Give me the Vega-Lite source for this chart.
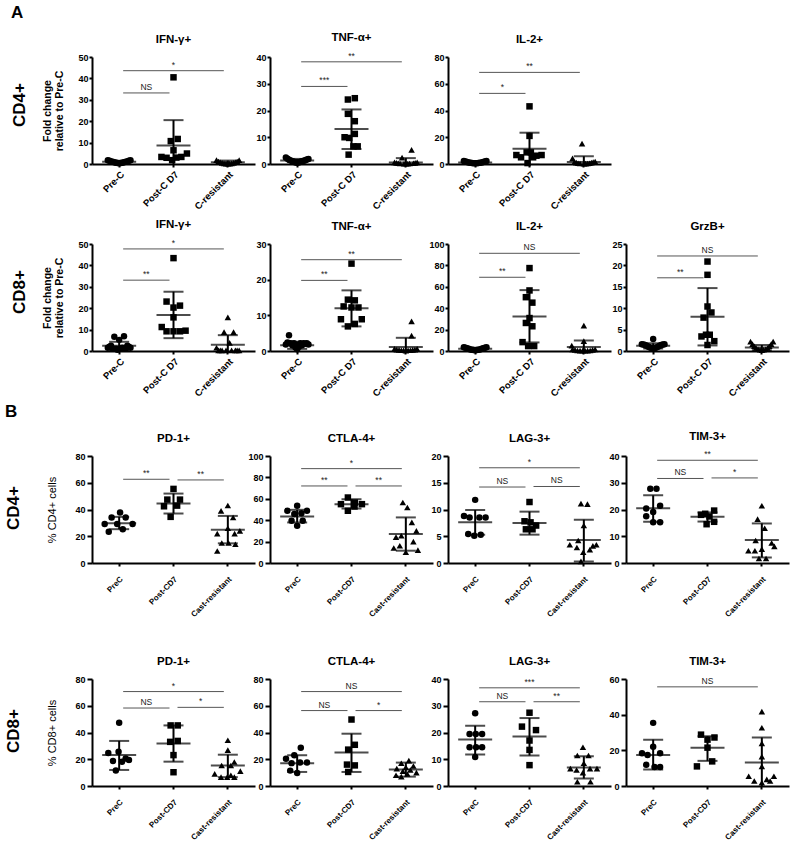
{
"$schema":"https://vega.github.io/schema/vega-lite/v6.json",
"background":"white",
"padding":{"left":4,"top":4,"right":2,"bottom":2},
"config":{
 "font":"Liberation Sans",
 "view":{"stroke":null},
 "axis":{"grid":false,"domainColor":"black","domainWidth":2,"tickColor":"black","tickWidth":2,"tickSize":3,"labelColor":"black","labelFont":"Liberation Sans","labelFontWeight":"bold","labelFontSize":9,"labelPadding":1,"labelOverlap":false,"labelFlush":false,"titleColor":"black","titleFont":"Liberation Sans"},
 "axisY":{"titleFontWeight":"bold","titleFontSize":10.5,"titlePadding":13,"titleLineHeight":12},
 "title":{"font":"Liberation Sans","fontSize":11.5,"fontWeight":"bold","color":"black","offset":8}
},
"data":{"values":[
{"p":"a1i","k":"p","g":1,"s":-0.75,"y":1.8},{"p":"a1i","k":"p","g":1,"s":-0.64,"y":1.5},{"p":"a1i","k":"p","g":1,"s":-0.54,"y":1.2},{"p":"a1i","k":"p","g":1,"s":-0.43,"y":1.0},{"p":"a1i","k":"p","g":1,"s":-0.32,"y":0.8},{"p":"a1i","k":"p","g":1,"s":-0.21,"y":0.6},{"p":"a1i","k":"p","g":1,"s":-0.11,"y":0.5},{"p":"a1i","k":"p","g":1,"s":0,"y":0.4},{"p":"a1i","k":"p","g":1,"s":0.11,"y":0.5},{"p":"a1i","k":"p","g":1,"s":0.21,"y":0.6},{"p":"a1i","k":"p","g":1,"s":0.32,"y":0.8},{"p":"a1i","k":"p","g":1,"s":0.43,"y":1.0},{"p":"a1i","k":"p","g":1,"s":0.54,"y":1.2},{"p":"a1i","k":"p","g":1,"s":0.64,"y":1.5},{"p":"a1i","k":"p","g":1,"s":0.75,"y":1.8},
{"p":"a1i","k":"p","g":2,"s":0,"y":40.5},{"p":"a1i","k":"p","g":2,"s":0.28,"y":11.7},{"p":"a1i","k":"p","g":2,"s":-0.18,"y":10.7},{"p":"a1i","k":"p","g":2,"s":0,"y":6.4},{"p":"a1i","k":"p","g":2,"s":-0.8,"y":3.3},{"p":"a1i","k":"p","g":2,"s":-0.46,"y":2.9},{"p":"a1i","k":"p","g":2,"s":-0.09,"y":1.8},{"p":"a1i","k":"p","g":2,"s":0.19,"y":3.0},{"p":"a1i","k":"p","g":2,"s":0.52,"y":3.3},{"p":"a1i","k":"p","g":2,"s":0.89,"y":4.9},
{"p":"a1i","k":"p","g":3,"s":-0.75,"y":1.8},{"p":"a1i","k":"p","g":3,"s":-0.62,"y":1.2},{"p":"a1i","k":"p","g":3,"s":-0.5,"y":0.8},{"p":"a1i","k":"p","g":3,"s":-0.38,"y":0.5},{"p":"a1i","k":"p","g":3,"s":-0.25,"y":0.3},{"p":"a1i","k":"p","g":3,"s":-0.12,"y":0.2},{"p":"a1i","k":"p","g":3,"s":0,"y":0.1},{"p":"a1i","k":"p","g":3,"s":0.12,"y":0.2},{"p":"a1i","k":"p","g":3,"s":0.25,"y":0.3},{"p":"a1i","k":"p","g":3,"s":0.38,"y":0.5},{"p":"a1i","k":"p","g":3,"s":0.5,"y":0.8},{"p":"a1i","k":"p","g":3,"s":0.62,"y":1.2},{"p":"a1i","k":"p","g":3,"s":0.75,"y":1.8},
{"p":"a1i","k":"m","g":1,"y":1.0,"lo":0.5,"hi":1.5},{"p":"a1i","k":"m","g":2,"y":8.7,"lo":-3.1,"hi":20.5},{"p":"a1i","k":"m","g":3,"y":0.8,"lo":0,"hi":1.6},
{"p":"a1i","k":"s","g":1,"g2":2,"y":33.2,"t":"NS","pr":"12"},{"p":"a1i","k":"s","g":1,"g2":3,"y":43.6,"t":"*","pr":"13"},

{"p":"a1t","k":"p","g":1,"s":-0.75,"y":2.4},{"p":"a1t","k":"p","g":1,"s":-0.64,"y":2.0},{"p":"a1t","k":"p","g":1,"s":-0.54,"y":1.6},{"p":"a1t","k":"p","g":1,"s":-0.43,"y":1.3},{"p":"a1t","k":"p","g":1,"s":-0.32,"y":1.0},{"p":"a1t","k":"p","g":1,"s":-0.21,"y":0.8},{"p":"a1t","k":"p","g":1,"s":-0.11,"y":0.6},{"p":"a1t","k":"p","g":1,"s":0,"y":0.5},{"p":"a1t","k":"p","g":1,"s":0.11,"y":0.6},{"p":"a1t","k":"p","g":1,"s":0.21,"y":0.8},{"p":"a1t","k":"p","g":1,"s":0.32,"y":1.0},{"p":"a1t","k":"p","g":1,"s":0.43,"y":1.2},{"p":"a1t","k":"p","g":1,"s":0.54,"y":1.4},{"p":"a1t","k":"p","g":1,"s":0.64,"y":1.7},{"p":"a1t","k":"p","g":1,"s":0.75,"y":1.9},
{"p":"a1t","k":"p","g":2,"s":-0.24,"y":24.1},{"p":"a1t","k":"p","g":2,"s":0.22,"y":24.6},{"p":"a1t","k":"p","g":2,"s":-0.24,"y":18.75},{"p":"a1t","k":"p","g":2,"s":0.22,"y":16.0},{"p":"a1t","k":"p","g":2,"s":-0.46,"y":10.0},{"p":"a1t","k":"p","g":2,"s":-0.15,"y":9.75},{"p":"a1t","k":"p","g":2,"s":0.22,"y":11.25},{"p":"a1t","k":"p","g":2,"s":-0.19,"y":3.5},{"p":"a1t","k":"p","g":2,"s":0.13,"y":6.6},{"p":"a1t","k":"p","g":2,"s":0.41,"y":6.6},
{"p":"a1t","k":"p","g":3,"s":-0.75,"y":0.6},{"p":"a1t","k":"p","g":3,"s":-0.62,"y":0.4},{"p":"a1t","k":"p","g":3,"s":-0.5,"y":0.3},{"p":"a1t","k":"p","g":3,"s":-0.38,"y":0.2},{"p":"a1t","k":"p","g":3,"s":-0.25,"y":2.4},{"p":"a1t","k":"p","g":3,"s":-0.12,"y":0.1},{"p":"a1t","k":"p","g":3,"s":0,"y":0.1},{"p":"a1t","k":"p","g":3,"s":0.12,"y":0.1},{"p":"a1t","k":"p","g":3,"s":0.25,"y":0.2},{"p":"a1t","k":"p","g":3,"s":0.38,"y":5.3},{"p":"a1t","k":"p","g":3,"s":0.5,"y":0.3},{"p":"a1t","k":"p","g":3,"s":0.62,"y":0.4},{"p":"a1t","k":"p","g":3,"s":0.75,"y":0.6},
{"p":"a1t","k":"m","g":1,"y":1.3,"lo":0.7,"hi":1.9},{"p":"a1t","k":"m","g":2,"y":13.1,"lo":5.6,"hi":20.4},{"p":"a1t","k":"m","g":3,"y":0.6,"lo":-1,"hi":2.2},
{"p":"a1t","k":"s","g":1,"g2":2,"y":29,"t":"***","pr":"12"},{"p":"a1t","k":"s","g":1,"g2":3,"y":38.2,"t":"**","pr":"13"},

{"p":"a1l","k":"p","g":1,"s":-0.75,"y":2.2},{"p":"a1l","k":"p","g":1,"s":-0.64,"y":1.8},{"p":"a1l","k":"p","g":1,"s":-0.54,"y":1.5},{"p":"a1l","k":"p","g":1,"s":-0.43,"y":1.2},{"p":"a1l","k":"p","g":1,"s":-0.32,"y":1.0},{"p":"a1l","k":"p","g":1,"s":-0.21,"y":0.8},{"p":"a1l","k":"p","g":1,"s":-0.11,"y":0.6},{"p":"a1l","k":"p","g":1,"s":0,"y":0.5},{"p":"a1l","k":"p","g":1,"s":0.11,"y":0.6},{"p":"a1l","k":"p","g":1,"s":0.21,"y":0.8},{"p":"a1l","k":"p","g":1,"s":0.32,"y":1.0},{"p":"a1l","k":"p","g":1,"s":0.43,"y":1.2},{"p":"a1l","k":"p","g":1,"s":0.54,"y":1.5},{"p":"a1l","k":"p","g":1,"s":0.64,"y":1.8},{"p":"a1l","k":"p","g":1,"s":0.75,"y":2.2},
{"p":"a1l","k":"p","g":2,"s":0,"y":43.1},{"p":"a1l","k":"p","g":2,"s":0,"y":21.0},{"p":"a1l","k":"p","g":2,"s":-0.19,"y":8.7},{"p":"a1l","k":"p","g":2,"s":0.09,"y":8.7},{"p":"a1l","k":"p","g":2,"s":-0.87,"y":6.7},{"p":"a1l","k":"p","g":2,"s":-0.56,"y":5.0},{"p":"a1l","k":"p","g":2,"s":0.46,"y":6.2},{"p":"a1l","k":"p","g":2,"s":0.8,"y":6.7},{"p":"a1l","k":"p","g":2,"s":-0.13,"y":0.7},{"p":"a1l","k":"p","g":2,"s":0.24,"y":5.0},
{"p":"a1l","k":"p","g":3,"s":-0.75,"y":4.2},{"p":"a1l","k":"p","g":3,"s":-0.62,"y":1.4},{"p":"a1l","k":"p","g":3,"s":-0.5,"y":1.0},{"p":"a1l","k":"p","g":3,"s":-0.38,"y":0.6},{"p":"a1l","k":"p","g":3,"s":-0.25,"y":0.4},{"p":"a1l","k":"p","g":3,"s":-0.12,"y":15.2},{"p":"a1l","k":"p","g":3,"s":0,"y":0.3},{"p":"a1l","k":"p","g":3,"s":0.12,"y":0.3},{"p":"a1l","k":"p","g":3,"s":0.25,"y":0.4},{"p":"a1l","k":"p","g":3,"s":0.38,"y":0.6},{"p":"a1l","k":"p","g":3,"s":0.5,"y":1.0},{"p":"a1l","k":"p","g":3,"s":0.62,"y":1.4},{"p":"a1l","k":"p","g":3,"s":0.75,"y":1.8},
{"p":"a1l","k":"m","g":1,"y":1.2,"lo":0.6,"hi":1.8},{"p":"a1l","k":"m","g":2,"y":11.4,"lo":-0.6,"hi":23.4},{"p":"a1l","k":"m","g":3,"y":1.5,"lo":-2.8,"hi":5.8},
{"p":"a1l","k":"s","g":1,"g2":2,"y":52.8,"t":"*","pr":"12"},{"p":"a1l","k":"s","g":1,"g2":3,"y":68.5,"t":"**","pr":"13"},

{"p":"a2i","k":"p","g":1,"s":-0.75,"y":1.5},{"p":"a2i","k":"p","g":1,"s":-0.64,"y":2.0},{"p":"a2i","k":"p","g":1,"s":-0.54,"y":2.5},{"p":"a2i","k":"p","g":1,"s":-0.43,"y":1.2},{"p":"a2i","k":"p","g":1,"s":-0.32,"y":6.7},{"p":"a2i","k":"p","g":1,"s":-0.21,"y":1.0},{"p":"a2i","k":"p","g":1,"s":-0.11,"y":0.6},{"p":"a2i","k":"p","g":1,"s":0,"y":5.2},{"p":"a2i","k":"p","g":1,"s":0.11,"y":1.0},{"p":"a2i","k":"p","g":1,"s":0.21,"y":1.5},{"p":"a2i","k":"p","g":1,"s":0.32,"y":6.9},{"p":"a2i","k":"p","g":1,"s":0.43,"y":1.2},{"p":"a2i","k":"p","g":1,"s":0.54,"y":2.5},{"p":"a2i","k":"p","g":1,"s":0.64,"y":2.0},{"p":"a2i","k":"p","g":1,"s":0.75,"y":1.5},
{"p":"a2i","k":"p","g":2,"s":0,"y":43.4},{"p":"a2i","k":"p","g":2,"s":-0.46,"y":23.1},{"p":"a2i","k":"p","g":2,"s":0.43,"y":21.2},{"p":"a2i","k":"p","g":2,"s":0,"y":20.3},{"p":"a2i","k":"p","g":2,"s":0,"y":15.7},{"p":"a2i","k":"p","g":2,"s":-0.78,"y":11.2},{"p":"a2i","k":"p","g":2,"s":-0.46,"y":9.2},{"p":"a2i","k":"p","g":2,"s":0,"y":9.2},{"p":"a2i","k":"p","g":2,"s":0.43,"y":9.2},{"p":"a2i","k":"p","g":2,"s":0.8,"y":9.5},
{"p":"a2i","k":"p","g":3,"s":-0.75,"y":1.5},{"p":"a2i","k":"p","g":3,"s":-0.62,"y":0.3},{"p":"a2i","k":"p","g":3,"s":-0.5,"y":0.3},{"p":"a2i","k":"p","g":3,"s":-0.38,"y":0.3},{"p":"a2i","k":"p","g":3,"s":-0.25,"y":8.8},{"p":"a2i","k":"p","g":3,"s":-0.12,"y":0.3},{"p":"a2i","k":"p","g":3,"s":0,"y":15.7},{"p":"a2i","k":"p","g":3,"s":0.12,"y":3.8},{"p":"a2i","k":"p","g":3,"s":0.25,"y":0.3},{"p":"a2i","k":"p","g":3,"s":0.38,"y":8.8},{"p":"a2i","k":"p","g":3,"s":0.5,"y":0.3},{"p":"a2i","k":"p","g":3,"s":0.62,"y":0.3},{"p":"a2i","k":"p","g":3,"s":0.75,"y":0.3},
{"p":"a2i","k":"m","g":1,"y":2.4,"lo":0.5,"hi":4.3},{"p":"a2i","k":"m","g":2,"y":16.8,"lo":6.0,"hi":27.7},{"p":"a2i","k":"m","g":3,"y":2.9,"lo":-1.6,"hi":7.4},
{"p":"a2i","k":"s","g":1,"g2":2,"y":33.1,"t":"**","pr":"12"},{"p":"a2i","k":"s","g":1,"g2":3,"y":47.7,"t":"*","pr":"13"},

{"p":"a2t","k":"p","g":1,"s":-0.75,"y":1.8},{"p":"a2t","k":"p","g":1,"s":-0.64,"y":2.4},{"p":"a2t","k":"p","g":1,"s":-0.54,"y":4.4},{"p":"a2t","k":"p","g":1,"s":-0.43,"y":2.2},{"p":"a2t","k":"p","g":1,"s":-0.32,"y":1.6},{"p":"a2t","k":"p","g":1,"s":-0.21,"y":2.2},{"p":"a2t","k":"p","g":1,"s":-0.11,"y":1.0},{"p":"a2t","k":"p","g":1,"s":0,"y":0.5},{"p":"a2t","k":"p","g":1,"s":0.11,"y":1.2},{"p":"a2t","k":"p","g":1,"s":0.21,"y":2.2},{"p":"a2t","k":"p","g":1,"s":0.32,"y":1.6},{"p":"a2t","k":"p","g":1,"s":0.43,"y":2.2},{"p":"a2t","k":"p","g":1,"s":0.54,"y":2.0},{"p":"a2t","k":"p","g":1,"s":0.64,"y":2.2},{"p":"a2t","k":"p","g":1,"s":0.75,"y":1.8},
{"p":"a2t","k":"p","g":2,"s":0,"y":24.5},{"p":"a2t","k":"p","g":2,"s":-0.24,"y":14.4},{"p":"a2t","k":"p","g":2,"s":0.22,"y":14.2},{"p":"a2t","k":"p","g":2,"s":-0.52,"y":12.5},{"p":"a2t","k":"p","g":2,"s":0,"y":12.2},{"p":"a2t","k":"p","g":2,"s":0.46,"y":12.2},{"p":"a2t","k":"p","g":2,"s":-0.7,"y":8.9},{"p":"a2t","k":"p","g":2,"s":0.68,"y":8.9},{"p":"a2t","k":"p","g":2,"s":-0.24,"y":6.9},{"p":"a2t","k":"p","g":2,"s":0.22,"y":7.6},
{"p":"a2t","k":"p","g":3,"s":0.38,"y":8.3},{"p":"a2t","k":"p","g":3,"s":0.38,"y":4.3},{"p":"a2t","k":"p","g":3,"s":-0.75,"y":0.6},{"p":"a2t","k":"p","g":3,"s":-0.6,"y":0.4},{"p":"a2t","k":"p","g":3,"s":-0.45,"y":0.3},{"p":"a2t","k":"p","g":3,"s":-0.3,"y":0.2},{"p":"a2t","k":"p","g":3,"s":-0.15,"y":0.2},{"p":"a2t","k":"p","g":3,"s":0,"y":0.1},{"p":"a2t","k":"p","g":3,"s":0.15,"y":0.2},{"p":"a2t","k":"p","g":3,"s":0.3,"y":0.2},{"p":"a2t","k":"p","g":3,"s":0.45,"y":0.3},{"p":"a2t","k":"p","g":3,"s":0.6,"y":0.4},{"p":"a2t","k":"p","g":3,"s":0.75,"y":0.6},
{"p":"a2t","k":"m","g":1,"y":1.6,"lo":0.6,"hi":2.6},{"p":"a2t","k":"m","g":2,"y":12.0,"lo":6.9,"hi":17.0},{"p":"a2t","k":"m","g":3,"y":1.1,"lo":-1.5,"hi":3.7},
{"p":"a2t","k":"s","g":1,"g2":2,"y":19.8,"t":"**","pr":"12"},{"p":"a2t","k":"s","g":1,"g2":3,"y":25.6,"t":"**","pr":"13"},

{"p":"a2l","k":"p","g":1,"s":-0.75,"y":3.5},{"p":"a2l","k":"p","g":1,"s":-0.64,"y":3.0},{"p":"a2l","k":"p","g":1,"s":-0.54,"y":2.5},{"p":"a2l","k":"p","g":1,"s":-0.43,"y":2.0},{"p":"a2l","k":"p","g":1,"s":-0.32,"y":1.5},{"p":"a2l","k":"p","g":1,"s":-0.21,"y":1.2},{"p":"a2l","k":"p","g":1,"s":-0.11,"y":1.0},{"p":"a2l","k":"p","g":1,"s":0,"y":0.8},{"p":"a2l","k":"p","g":1,"s":0.11,"y":1.0},{"p":"a2l","k":"p","g":1,"s":0.21,"y":1.2},{"p":"a2l","k":"p","g":1,"s":0.32,"y":1.5},{"p":"a2l","k":"p","g":1,"s":0.43,"y":2.0},{"p":"a2l","k":"p","g":1,"s":0.54,"y":2.5},{"p":"a2l","k":"p","g":1,"s":0.64,"y":3.0},{"p":"a2l","k":"p","g":1,"s":0.75,"y":3.5},
{"p":"a2l","k":"p","g":2,"s":0,"y":77.5},{"p":"a2l","k":"p","g":2,"s":0,"y":56.6},{"p":"a2l","k":"p","g":2,"s":-0.24,"y":50.3},{"p":"a2l","k":"p","g":2,"s":0.19,"y":45.2},{"p":"a2l","k":"p","g":2,"s":0,"y":30.8},{"p":"a2l","k":"p","g":2,"s":-0.24,"y":26.2},{"p":"a2l","k":"p","g":2,"s":0.19,"y":23.1},{"p":"a2l","k":"p","g":2,"s":-0.46,"y":8.3},{"p":"a2l","k":"p","g":2,"s":-0.09,"y":4.6},{"p":"a2l","k":"p","g":2,"s":0.31,"y":4.6},
{"p":"a2l","k":"p","g":3,"s":0,"y":23.7},{"p":"a2l","k":"p","g":3,"s":0,"y":9.2},{"p":"a2l","k":"p","g":3,"s":-0.8,"y":5.0},{"p":"a2l","k":"p","g":3,"s":-0.75,"y":1.5},{"p":"a2l","k":"p","g":3,"s":-0.58,"y":1.0},{"p":"a2l","k":"p","g":3,"s":-0.42,"y":0.5},{"p":"a2l","k":"p","g":3,"s":-0.25,"y":0.3},{"p":"a2l","k":"p","g":3,"s":-0.08,"y":0.3},{"p":"a2l","k":"p","g":3,"s":0.08,"y":0.3},{"p":"a2l","k":"p","g":3,"s":0.25,"y":0.3},{"p":"a2l","k":"p","g":3,"s":0.42,"y":0.5},{"p":"a2l","k":"p","g":3,"s":0.58,"y":1.0},{"p":"a2l","k":"p","g":3,"s":0.75,"y":1.5},
{"p":"a2l","k":"m","g":1,"y":2.0,"lo":1.0,"hi":3.0},{"p":"a2l","k":"m","g":2,"y":32.3,"lo":8.0,"hi":56.9},{"p":"a2l","k":"m","g":3,"y":3.7,"lo":-2.5,"hi":9.9},
{"p":"a2l","k":"s","g":1,"g2":2,"y":68.9,"t":"**","pr":"12"},{"p":"a2l","k":"s","g":1,"g2":3,"y":91.3,"t":"NS","pr":"13"},

{"p":"a2g","k":"p","g":1,"s":-0.75,"y":1.6},{"p":"a2g","k":"p","g":1,"s":-0.64,"y":1.5},{"p":"a2g","k":"p","g":1,"s":-0.54,"y":1.4},{"p":"a2g","k":"p","g":1,"s":-0.43,"y":1.2},{"p":"a2g","k":"p","g":1,"s":-0.32,"y":1.0},{"p":"a2g","k":"p","g":1,"s":-0.21,"y":0.8},{"p":"a2g","k":"p","g":1,"s":-0.11,"y":0.7},{"p":"a2g","k":"p","g":1,"s":0,"y":2.8},{"p":"a2g","k":"p","g":1,"s":0.11,"y":0.7},{"p":"a2g","k":"p","g":1,"s":0.21,"y":0.8},{"p":"a2g","k":"p","g":1,"s":0.32,"y":1.0},{"p":"a2g","k":"p","g":1,"s":0.43,"y":1.2},{"p":"a2g","k":"p","g":1,"s":0.54,"y":1.4},{"p":"a2g","k":"p","g":1,"s":0.64,"y":1.5},{"p":"a2g","k":"p","g":1,"s":0.75,"y":1.6},
{"p":"a2g","k":"p","g":2,"s":0,"y":20.9},{"p":"a2g","k":"p","g":2,"s":0,"y":17.8},{"p":"a2g","k":"p","g":2,"s":0,"y":10.4},{"p":"a2g","k":"p","g":2,"s":0.26,"y":9.0},{"p":"a2g","k":"p","g":2,"s":-0.26,"y":7.8},{"p":"a2g","k":"p","g":2,"s":-0.4,"y":3.4},{"p":"a2g","k":"p","g":2,"s":-0.1,"y":3.8},{"p":"a2g","k":"p","g":2,"s":0.15,"y":3.8},{"p":"a2g","k":"p","g":2,"s":0.45,"y":2.3},{"p":"a2g","k":"p","g":2,"s":0,"y":1.4},
{"p":"a2g","k":"p","g":3,"s":-0.75,"y":2.2},{"p":"a2g","k":"p","g":3,"s":-0.62,"y":1.6},{"p":"a2g","k":"p","g":3,"s":-0.5,"y":1.1},{"p":"a2g","k":"p","g":3,"s":-0.38,"y":0.7},{"p":"a2g","k":"p","g":3,"s":-0.25,"y":0.4},{"p":"a2g","k":"p","g":3,"s":-0.12,"y":0.3},{"p":"a2g","k":"p","g":3,"s":0,"y":0.2},{"p":"a2g","k":"p","g":3,"s":0.12,"y":0.3},{"p":"a2g","k":"p","g":3,"s":0.25,"y":0.4},{"p":"a2g","k":"p","g":3,"s":0.38,"y":0.7},{"p":"a2g","k":"p","g":3,"s":0.5,"y":1.1},{"p":"a2g","k":"p","g":3,"s":0.62,"y":1.6},{"p":"a2g","k":"p","g":3,"s":0.75,"y":2.2},
{"p":"a2g","k":"m","g":1,"y":1.2,"lo":0.6,"hi":1.8},{"p":"a2g","k":"m","g":2,"y":8.0,"lo":1.3,"hi":14.7},{"p":"a2g","k":"m","g":3,"y":0.8,"lo":0.2,"hi":1.4},
{"p":"a2g","k":"s","g":1,"g2":2,"y":17.1,"t":"**","pr":"12"},{"p":"a2g","k":"s","g":1,"g2":3,"y":22.2,"t":"NS","pr":"13"},

{"p":"b1p","k":"p","g":1,"s":0.06,"y":37.8},{"p":"b1p","k":"p","g":1,"s":-0.5,"y":34.0},{"p":"b1p","k":"p","g":1,"s":0.43,"y":34.0},{"p":"b1p","k":"p","g":1,"s":-0.96,"y":29.2},{"p":"b1p","k":"p","g":1,"s":-0.13,"y":29.2},{"p":"b1p","k":"p","g":1,"s":0.89,"y":29.2},{"p":"b1p","k":"p","g":1,"s":-0.69,"y":23.4},{"p":"b1p","k":"p","g":1,"s":0.24,"y":25.3},
{"p":"b1p","k":"p","g":2,"s":0,"y":55.4},{"p":"b1p","k":"p","g":2,"s":-0.41,"y":47.4},{"p":"b1p","k":"p","g":2,"s":0.43,"y":47.4},{"p":"b1p","k":"p","g":2,"s":-0.63,"y":42.4},{"p":"b1p","k":"p","g":2,"s":0.24,"y":42.9},{"p":"b1p","k":"p","g":2,"s":-0.19,"y":34.5},
{"p":"b1p","k":"p","g":3,"s":0,"y":43},{"p":"b1p","k":"p","g":3,"s":-0.45,"y":39},{"p":"b1p","k":"p","g":3,"s":0.35,"y":34},{"p":"b1p","k":"p","g":3,"s":0,"y":26},{"p":"b1p","k":"p","g":3,"s":-0.7,"y":22},{"p":"b1p","k":"p","g":3,"s":0.45,"y":22},{"p":"b1p","k":"p","g":3,"s":0.8,"y":24},{"p":"b1p","k":"p","g":3,"s":-0.4,"y":15},{"p":"b1p","k":"p","g":3,"s":0.05,"y":15},{"p":"b1p","k":"p","g":3,"s":0.5,"y":14},{"p":"b1p","k":"p","g":3,"s":-0.7,"y":9},
{"p":"b1p","k":"m","g":1,"y":29.8,"lo":25.3,"hi":34.5},{"p":"b1p","k":"m","g":2,"y":44.5,"lo":37.0,"hi":51.9},{"p":"b1p","k":"m","g":3,"y":24.8,"lo":14.7,"hi":35.2},
{"p":"b1p","k":"s","g":1,"g2":2,"y":62.6,"t":"**","pr":"12"},{"p":"b1p","k":"s","g":2,"g2":3,"y":62.1,"t":"**","pr":"23"},

{"p":"b1c","k":"p","g":1,"s":0,"y":53.4},{"p":"b1c","k":"p","g":1,"s":-0.65,"y":48.8},{"p":"b1c","k":"p","g":1,"s":0.65,"y":48.8},{"p":"b1c","k":"p","g":1,"s":-0.19,"y":45.7},{"p":"b1c","k":"p","g":1,"s":0.28,"y":46.6},{"p":"b1c","k":"p","g":1,"s":-0.37,"y":39.4},{"p":"b1c","k":"p","g":1,"s":0.37,"y":39.4},{"p":"b1c","k":"p","g":1,"s":0,"y":34.8},
{"p":"b1c","k":"p","g":2,"s":-0.24,"y":61.2},{"p":"b1c","k":"p","g":2,"s":-0.7,"y":55},{"p":"b1c","k":"p","g":2,"s":0.22,"y":56.5},{"p":"b1c","k":"p","g":2,"s":0.69,"y":55},{"p":"b1c","k":"p","g":2,"s":-0.24,"y":48.8},{"p":"b1c","k":"p","g":2,"s":0.2,"y":52.8},
{"p":"b1c","k":"p","g":3,"s":-0.2,"y":56.6},{"p":"b1c","k":"p","g":3,"s":0.1,"y":51.9},{"p":"b1c","k":"p","g":3,"s":0.4,"y":38},{"p":"b1c","k":"p","g":3,"s":0.7,"y":30},{"p":"b1c","k":"p","g":3,"s":-0.3,"y":25.5},{"p":"b1c","k":"p","g":3,"s":-0.65,"y":24.2},{"p":"b1c","k":"p","g":3,"s":0.5,"y":20},{"p":"b1c","k":"p","g":3,"s":-0.4,"y":16.1},{"p":"b1c","k":"p","g":3,"s":-0.8,"y":14},{"p":"b1c","k":"p","g":3,"s":0.8,"y":12},{"p":"b1c","k":"p","g":3,"s":0,"y":10},
{"p":"b1c","k":"m","g":1,"y":43.5,"lo":37.9,"hi":49.7},{"p":"b1c","k":"m","g":2,"y":55.0,"lo":50.9,"hi":59.6},{"p":"b1c","k":"m","g":3,"y":27.0,"lo":11.5,"hi":42.6},
{"p":"b1c","k":"s","g":1,"g2":2,"y":72,"t":"**","pr":"12"},{"p":"b1c","k":"s","g":2,"g2":3,"y":72,"t":"**","pr":"23"},{"p":"b1c","k":"s","g":1,"g2":3,"y":88.2,"t":"*","pr":"13"},

{"p":"b1l","k":"p","g":1,"s":0,"y":11.8},{"p":"b1l","k":"p","g":1,"s":-0.74,"y":8.8},{"p":"b1l","k":"p","g":1,"s":-0.37,"y":8.5},{"p":"b1l","k":"p","g":1,"s":0.28,"y":8.5},{"p":"b1l","k":"p","g":1,"s":0.69,"y":8.5},{"p":"b1l","k":"p","g":1,"s":-0.46,"y":5.4},{"p":"b1l","k":"p","g":1,"s":-0.06,"y":5.1},{"p":"b1l","k":"p","g":1,"s":0.37,"y":5.3},
{"p":"b1l","k":"p","g":2,"s":0,"y":11.4},{"p":"b1l","k":"p","g":2,"s":-0.33,"y":7.8},{"p":"b1l","k":"p","g":2,"s":0.07,"y":7.6},{"p":"b1l","k":"p","g":2,"s":0.44,"y":7.0},{"p":"b1l","k":"p","g":2,"s":-0.24,"y":6.3},{"p":"b1l","k":"p","g":2,"s":0.2,"y":6.3},
{"p":"b1l","k":"p","g":3,"s":-0.19,"y":11.1},{"p":"b1l","k":"p","g":3,"s":0.24,"y":11.0},{"p":"b1l","k":"p","g":3,"s":0,"y":7.0},{"p":"b1l","k":"p","g":3,"s":-0.93,"y":3.4},{"p":"b1l","k":"p","g":3,"s":-0.46,"y":2.9},{"p":"b1l","k":"p","g":3,"s":-0.04,"y":2.0},{"p":"b1l","k":"p","g":3,"s":0.4,"y":2.5},{"p":"b1l","k":"p","g":3,"s":0.83,"y":3.4},{"p":"b1l","k":"p","g":3,"s":-0.37,"y":4.2},{"p":"b1l","k":"p","g":3,"s":-0.19,"y":0.3},{"p":"b1l","k":"p","g":3,"s":0.6,"y":3.2},
{"p":"b1l","k":"m","g":1,"y":7.6,"lo":5.3,"hi":9.9},{"p":"b1l","k":"m","g":2,"y":7.5,"lo":5.3,"hi":9.6},{"p":"b1l","k":"m","g":3,"y":4.3,"lo":0.3,"hi":8.1},
{"p":"b1l","k":"s","g":1,"g2":2,"y":14.2,"t":"NS","pr":"12"},{"p":"b1l","k":"s","g":2,"g2":3,"y":14.3,"t":"NS","pr":"23"},{"p":"b1l","k":"s","g":1,"g2":3,"y":17.8,"t":"*","pr":"13"},

{"p":"b1t","k":"p","g":1,"s":-0.19,"y":27.8},{"p":"b1t","k":"p","g":1,"s":0.22,"y":27.8},{"p":"b1t","k":"p","g":1,"s":0.46,"y":21.4},{"p":"b1t","k":"p","g":1,"s":-0.46,"y":20.4},{"p":"b1t","k":"p","g":1,"s":0,"y":19.1},{"p":"b1t","k":"p","g":1,"s":-0.46,"y":17.5},{"p":"b1t","k":"p","g":1,"s":0,"y":15.2},{"p":"b1t","k":"p","g":1,"s":0.46,"y":15.2},
{"p":"b1t","k":"p","g":2,"s":0.44,"y":19.6},{"p":"b1t","k":"p","g":2,"s":-0.15,"y":18.4},{"p":"b1t","k":"p","g":2,"s":0.13,"y":17.4},{"p":"b1t","k":"p","g":2,"s":-0.43,"y":18.0},{"p":"b1t","k":"p","g":2,"s":0.44,"y":15.4},{"p":"b1t","k":"p","g":2,"s":-0.06,"y":14.5},
{"p":"b1t","k":"p","g":3,"s":0,"y":21.4},{"p":"b1t","k":"p","g":3,"s":-0.28,"y":16.4},{"p":"b1t","k":"p","g":3,"s":0.19,"y":13.0},{"p":"b1t","k":"p","g":3,"s":-0.41,"y":8.4},{"p":"b1t","k":"p","g":3,"s":0.65,"y":7.5},{"p":"b1t","k":"p","g":3,"s":-0.89,"y":4.6},{"p":"b1t","k":"p","g":3,"s":-0.46,"y":4.6},{"p":"b1t","k":"p","g":3,"s":0,"y":5.2},{"p":"b1t","k":"p","g":3,"s":-0.19,"y":1.7},{"p":"b1t","k":"p","g":3,"s":0.28,"y":1.7},{"p":"b1t","k":"p","g":3,"s":0.83,"y":6.2},
{"p":"b1t","k":"m","g":1,"y":20.5,"lo":15.4,"hi":25.3},{"p":"b1t","k":"m","g":2,"y":17.3,"lo":15.5,"hi":18.9},{"p":"b1t","k":"m","g":3,"y":8.6,"lo":2.1,"hi":14.8},
{"p":"b1t","k":"s","g":1,"g2":2,"y":31.6,"t":"NS","pr":"12"},{"p":"b1t","k":"s","g":2,"g2":3,"y":31.8,"t":"*","pr":"23"},{"p":"b1t","k":"s","g":1,"g2":3,"y":38.4,"t":"**","pr":"13"},

{"p":"b2p","k":"p","g":1,"s":0,"y":47.3},{"p":"b2p","k":"p","g":1,"s":-0.72,"y":24.6},{"p":"b2p","k":"p","g":1,"s":-0.04,"y":25.6},{"p":"b2p","k":"p","g":1,"s":-0.41,"y":18.7},{"p":"b2p","k":"p","g":1,"s":0.43,"y":20.5},{"p":"b2p","k":"p","g":1,"s":0.19,"y":18.2},{"p":"b2p","k":"p","g":1,"s":0.65,"y":19.5},{"p":"b2p","k":"p","g":1,"s":-0.22,"y":11.6},
{"p":"b2p","k":"p","g":2,"s":-0.19,"y":45.3},{"p":"b2p","k":"p","g":2,"s":0.28,"y":45.3},{"p":"b2p","k":"p","g":2,"s":0.28,"y":33.7},{"p":"b2p","k":"p","g":2,"s":-0.22,"y":33.0},{"p":"b2p","k":"p","g":2,"s":0,"y":23.1},{"p":"b2p","k":"p","g":2,"s":0,"y":10.3},
{"p":"b2p","k":"p","g":3,"s":0,"y":34.2},{"p":"b2p","k":"p","g":3,"s":0,"y":26.8},{"p":"b2p","k":"p","g":3,"s":0.43,"y":17.9},{"p":"b2p","k":"p","g":3,"s":-0.41,"y":15.3},{"p":"b2p","k":"p","g":3,"s":0.2,"y":15.3},{"p":"b2p","k":"p","g":3,"s":0.83,"y":11.1},{"p":"b2p","k":"p","g":3,"s":-0.87,"y":9.1},{"p":"b2p","k":"p","g":3,"s":-0.45,"y":6.6},{"p":"b2p","k":"p","g":3,"s":-0.04,"y":6.6},{"p":"b2p","k":"p","g":3,"s":0.43,"y":6.6},{"p":"b2p","k":"p","g":3,"s":0.2,"y":8.0},
{"p":"b2p","k":"m","g":1,"y":23.1,"lo":12.0,"hi":33.7},{"p":"b2p","k":"m","g":2,"y":31.8,"lo":18.2,"hi":45.3},{"p":"b2p","k":"m","g":3,"y":15.3,"lo":6.6,"hi":23.4},
{"p":"b2p","k":"s","g":1,"g2":2,"y":58.3,"t":"NS","pr":"12"},{"p":"b2p","k":"s","g":2,"g2":3,"y":58.8,"t":"*","pr":"23"},{"p":"b2p","k":"s","g":1,"g2":3,"y":70.6,"t":"*","pr":"13"},

{"p":"b2c","k":"p","g":1,"s":0.24,"y":28.6},{"p":"b2c","k":"p","g":1,"s":-0.19,"y":23.0},{"p":"b2c","k":"p","g":1,"s":-0.74,"y":20.3},{"p":"b2c","k":"p","g":1,"s":0.65,"y":17.6},{"p":"b2c","k":"p","g":1,"s":-0.37,"y":17.1},{"p":"b2c","k":"p","g":1,"s":0.19,"y":17.6},{"p":"b2c","k":"p","g":1,"s":0,"y":9.8},{"p":"b2c","k":"p","g":1,"s":-0.46,"y":11.5},
{"p":"b2c","k":"p","g":2,"s":0,"y":49.7},{"p":"b2c","k":"p","g":2,"s":0.22,"y":30.8},{"p":"b2c","k":"p","g":2,"s":-0.22,"y":27.2},{"p":"b2c","k":"p","g":2,"s":-0.3,"y":16.0},{"p":"b2c","k":"p","g":2,"s":0.22,"y":15.4},{"p":"b2c","k":"p","g":2,"s":-0.22,"y":10.5},
{"p":"b2c","k":"p","g":3,"s":0.2,"y":19},{"p":"b2c","k":"p","g":3,"s":-0.3,"y":17},{"p":"b2c","k":"p","g":3,"s":0.5,"y":15},{"p":"b2c","k":"p","g":3,"s":0,"y":14},{"p":"b2c","k":"p","g":3,"s":-0.6,"y":13},{"p":"b2c","k":"p","g":3,"s":0.3,"y":12},{"p":"b2c","k":"p","g":3,"s":-0.2,"y":11},{"p":"b2c","k":"p","g":3,"s":0.7,"y":10},{"p":"b2c","k":"p","g":3,"s":0.1,"y":9},{"p":"b2c","k":"p","g":3,"s":-0.65,"y":8},{"p":"b2c","k":"p","g":3,"s":-0.3,"y":7},
{"p":"b2c","k":"m","g":1,"y":17.1,"lo":10.5,"hi":23.0},{"p":"b2c","k":"m","g":2,"y":25.0,"lo":10.5,"hi":39.1},{"p":"b2c","k":"m","g":3,"y":12.3,"lo":7.0,"hi":17.5},
{"p":"b2c","k":"s","g":1,"g2":2,"y":56.4,"t":"NS","pr":"12"},{"p":"b2c","k":"s","g":2,"g2":3,"y":56.4,"t":"*","pr":"23"},{"p":"b2c","k":"s","g":1,"g2":3,"y":70.6,"t":"NS","pr":"13"},

{"p":"b2l","k":"p","g":1,"s":0,"y":27.2},{"p":"b2l","k":"p","g":1,"s":-0.37,"y":19.4},{"p":"b2l","k":"p","g":1,"s":0.04,"y":19.4},{"p":"b2l","k":"p","g":1,"s":0.46,"y":19.4},{"p":"b2l","k":"p","g":1,"s":-0.37,"y":14.5},{"p":"b2l","k":"p","g":1,"s":0.46,"y":14.5},{"p":"b2l","k":"p","g":1,"s":0.06,"y":14.5},{"p":"b2l","k":"p","g":1,"s":0,"y":10.8},
{"p":"b2l","k":"p","g":2,"s":0,"y":27.4},{"p":"b2l","k":"p","g":2,"s":-0.5,"y":22.2},{"p":"b2l","k":"p","g":2,"s":0.43,"y":20.9},{"p":"b2l","k":"p","g":2,"s":0,"y":17.0},{"p":"b2l","k":"p","g":2,"s":0,"y":13.5},{"p":"b2l","k":"p","g":2,"s":0,"y":7.8},
{"p":"b2l","k":"p","g":3,"s":-0.06,"y":14.5},{"p":"b2l","k":"p","g":3,"s":-0.43,"y":11.4},{"p":"b2l","k":"p","g":3,"s":0.31,"y":11.4},{"p":"b2l","k":"p","g":3,"s":0,"y":8.5},{"p":"b2l","k":"p","g":3,"s":-0.89,"y":6.5},{"p":"b2l","k":"p","g":3,"s":-0.48,"y":6.0},{"p":"b2l","k":"p","g":3,"s":-0.06,"y":5.0},{"p":"b2l","k":"p","g":3,"s":0.41,"y":6.5},{"p":"b2l","k":"p","g":3,"s":0.87,"y":6.5},{"p":"b2l","k":"p","g":3,"s":-0.43,"y":1.6},{"p":"b2l","k":"p","g":3,"s":0.44,"y":1.6},
{"p":"b2l","k":"m","g":1,"y":17.4,"lo":11.8,"hi":22.5},{"p":"b2l","k":"m","g":2,"y":18.5,"lo":11.4,"hi":25.4},{"p":"b2l","k":"m","g":3,"y":6.9,"lo":2.8,"hi":11.1},
{"p":"b2l","k":"s","g":1,"g2":2,"y":31.5,"t":"NS","pr":"12"},{"p":"b2l","k":"s","g":2,"g2":3,"y":31.5,"t":"**","pr":"23"},{"p":"b2l","k":"s","g":1,"g2":3,"y":36.7,"t":"***","pr":"13"},

{"p":"b2t","k":"p","g":1,"s":0,"y":35.4},{"p":"b2t","k":"p","g":1,"s":0,"y":22.0},{"p":"b2t","k":"p","g":1,"s":-0.74,"y":18.3},{"p":"b2t","k":"p","g":1,"s":0.46,"y":18.3},{"p":"b2t","k":"p","g":1,"s":-0.37,"y":17.4},{"p":"b2t","k":"p","g":1,"s":-0.46,"y":11.9},{"p":"b2t","k":"p","g":1,"s":0.09,"y":10.6},{"p":"b2t","k":"p","g":1,"s":0.46,"y":10.6},
{"p":"b2t","k":"p","g":2,"s":-0.43,"y":28.8},{"p":"b2t","k":"p","g":2,"s":0.46,"y":27.2},{"p":"b2t","k":"p","g":2,"s":0,"y":26.0},{"p":"b2t","k":"p","g":2,"s":0,"y":21.5},{"p":"b2t","k":"p","g":2,"s":-0.7,"y":11.0},{"p":"b2t","k":"p","g":2,"s":0.31,"y":13.8},
{"p":"b2t","k":"p","g":3,"s":0,"y":41.7},{"p":"b2t","k":"p","g":3,"s":0,"y":32.7},{"p":"b2t","k":"p","g":3,"s":0,"y":23.9},{"p":"b2t","k":"p","g":3,"s":0,"y":16.5},{"p":"b2t","k":"p","g":3,"s":0,"y":11.0},{"p":"b2t","k":"p","g":3,"s":-0.87,"y":5.5},{"p":"b2t","k":"p","g":3,"s":-0.5,"y":2.8},{"p":"b2t","k":"p","g":3,"s":0,"y":1.8},{"p":"b2t","k":"p","g":3,"s":0.33,"y":3.7},{"p":"b2t","k":"p","g":3,"s":0.8,"y":5.5},{"p":"b2t","k":"p","g":3,"s":0.55,"y":2.8},
{"p":"b2t","k":"m","g":1,"y":17.4,"lo":9.2,"hi":26.0},{"p":"b2t","k":"m","g":2,"y":21.5,"lo":14.1,"hi":27.9},{"p":"b2t","k":"m","g":3,"y":13.2,"lo":-0.8,"hi":27.2},
{"p":"b2t","k":"s","g":1,"g2":3,"y":55.6,"t":"NS","pr":"13"}
]},
"spacing":4,
"align":"none",
"vconcat":[
{"title":{"text":"A","anchor":"start","fontSize":17,"fontWeight":"bold","offset":10},
 "spacing":8,
 "vconcat":[
 {"title":{"text":"CD4+","orient":"left","fontSize":17,"fontWeight":"bold","frame":"group","anchor":"middle","offset":14,"dx":-48},
  "bounds":"flush","spacing":15,
  "hconcat":[
  {"width":163,"height":107,"title":"IFN-γ+","transform":[{"filter":"datum.p=='a1i'"}],
   "encoding":{"x":{"field":"g","type":"ordinal","scale":{"type":"band","paddingInner":0,"paddingOuter":0},"axis":{"title":null,"labelAngle":-45,"labelAlign":"right","labelBaseline":"top","labelFontSize":9.5,"labelPadding":2,"labelExpr":"datum.value==1?'Pre-C':datum.value==2?'Post-C D7':'C-resistant'"}},
    "y":{"field":"y","type":"quantitative","scale":{"domain":[0,50]},"axis":{"values":[0,10,20,30,40,50],"title":["Fold change","relative to Pre-C"]}}},
   "layer":[
    {"transform":[{"filter":"datum.k=='s'"}],"mark":{"type":"rule","color":"#555","strokeWidth":1,"xOffset":4,"x2Offset":-4},"encoding":{"x":{"field":"g","type":"ordinal","bandPosition":0.5,"title":null},"x2":{"field":"g2"}}},
    {"transform":[{"filter":"datum.k=='s' && datum.pr!='13'"}],"mark":{"type":"text","baseline":"bottom","dy":-1,"fontSize":8.5,"color":"#222"},"encoding":{"x":{"field":"g2","type":"ordinal","bandPosition":0,"title":null},"text":{"field":"t"}}},
    {"transform":[{"filter":"datum.k=='s' && datum.pr=='13'"}],"mark":{"type":"text","baseline":"bottom","dy":-1,"fontSize":8.5,"color":"#222"},"encoding":{"x":{"field":"g","type":"ordinal","bandPosition":1.5,"title":null},"text":{"field":"t"}}},
    {"transform":[{"filter":"datum.k=='p'"}],"mark":{"type":"point","filled":true,"size":42,"color":"black","opacity":1},"encoding":{"xOffset":{"field":"s","type":"quantitative","scale":{"domain":[-1.5,1.5]}},"shape":{"field":"g","type":"nominal","scale":{"domain":[1,2,3],"range":["circle","square","triangle-up"]},"legend":null}}},
    {"transform":[{"filter":"datum.k=='m'"}],"mark":{"type":"rule","clip":true,"strokeWidth":2,"color":"black"},"encoding":{"y":{"field":"lo","type":"quantitative","title":null},"y2":{"field":"hi"}}},
    {"transform":[{"filter":"datum.k=='m'"}],"mark":{"type":"tick","orient":"horizontal","size":34,"thickness":2,"color":"black"}},
    {"transform":[{"filter":"datum.k=='m'"},{"fold":["lo","hi"],"as":["kk","cap"]}],"mark":{"type":"tick","orient":"horizontal","size":20,"thickness":2,"color":"black","clip":true},"encoding":{"y":{"field":"cap","type":"quantitative","title":null}}}
   ]},
  {"width":163,"height":107,"title":"TNF-α+","transform":[{"filter":"datum.p=='a1t'"}],
   "encoding":{"x":{"field":"g","type":"ordinal","scale":{"type":"band","paddingInner":0,"paddingOuter":0},"axis":{"title":null,"labelAngle":-45,"labelAlign":"right","labelBaseline":"top","labelFontSize":9.5,"labelPadding":2,"labelExpr":"datum.value==1?'Pre-C':datum.value==2?'Post-C D7':'C-resistant'"}},
    "y":{"field":"y","type":"quantitative","scale":{"domain":[0,40]},"axis":{"values":[0,10,20,30,40],"title":null}}},
   "layer":[
    {"transform":[{"filter":"datum.k=='s'"}],"mark":{"type":"rule","color":"#555","strokeWidth":1,"xOffset":4,"x2Offset":-4},"encoding":{"x":{"field":"g","type":"ordinal","bandPosition":0.5,"title":null},"x2":{"field":"g2"}}},
    {"transform":[{"filter":"datum.k=='s' && datum.pr!='13'"}],"mark":{"type":"text","baseline":"bottom","dy":-1,"fontSize":8.5,"color":"#222"},"encoding":{"x":{"field":"g2","type":"ordinal","bandPosition":0,"title":null},"text":{"field":"t"}}},
    {"transform":[{"filter":"datum.k=='s' && datum.pr=='13'"}],"mark":{"type":"text","baseline":"bottom","dy":-1,"fontSize":8.5,"color":"#222"},"encoding":{"x":{"field":"g","type":"ordinal","bandPosition":1.5,"title":null},"text":{"field":"t"}}},
    {"transform":[{"filter":"datum.k=='p'"}],"mark":{"type":"point","filled":true,"size":42,"color":"black","opacity":1},"encoding":{"xOffset":{"field":"s","type":"quantitative","scale":{"domain":[-1.5,1.5]}},"shape":{"field":"g","type":"nominal","scale":{"domain":[1,2,3],"range":["circle","square","triangle-up"]},"legend":null}}},
    {"transform":[{"filter":"datum.k=='m'"}],"mark":{"type":"rule","clip":true,"strokeWidth":2,"color":"black"},"encoding":{"y":{"field":"lo","type":"quantitative","title":null},"y2":{"field":"hi"}}},
    {"transform":[{"filter":"datum.k=='m'"}],"mark":{"type":"tick","orient":"horizontal","size":34,"thickness":2,"color":"black"}},
    {"transform":[{"filter":"datum.k=='m'"},{"fold":["lo","hi"],"as":["kk","cap"]}],"mark":{"type":"tick","orient":"horizontal","size":20,"thickness":2,"color":"black","clip":true},"encoding":{"y":{"field":"cap","type":"quantitative","title":null}}}
   ]},
  {"width":163,"height":107,"title":"IL-2+","transform":[{"filter":"datum.p=='a1l'"}],
   "encoding":{"x":{"field":"g","type":"ordinal","scale":{"type":"band","paddingInner":0,"paddingOuter":0},"axis":{"title":null,"labelAngle":-45,"labelAlign":"right","labelBaseline":"top","labelFontSize":9.5,"labelPadding":2,"labelExpr":"datum.value==1?'Pre-C':datum.value==2?'Post-C D7':'C-resistant'"}},
    "y":{"field":"y","type":"quantitative","scale":{"domain":[0,80]},"axis":{"values":[0,20,40,60,80],"title":null}}},
   "layer":[
    {"transform":[{"filter":"datum.k=='s'"}],"mark":{"type":"rule","color":"#555","strokeWidth":1,"xOffset":4,"x2Offset":-4},"encoding":{"x":{"field":"g","type":"ordinal","bandPosition":0.5,"title":null},"x2":{"field":"g2"}}},
    {"transform":[{"filter":"datum.k=='s' && datum.pr!='13'"}],"mark":{"type":"text","baseline":"bottom","dy":-1,"fontSize":8.5,"color":"#222"},"encoding":{"x":{"field":"g2","type":"ordinal","bandPosition":0,"title":null},"text":{"field":"t"}}},
    {"transform":[{"filter":"datum.k=='s' && datum.pr=='13'"}],"mark":{"type":"text","baseline":"bottom","dy":-1,"fontSize":8.5,"color":"#222"},"encoding":{"x":{"field":"g","type":"ordinal","bandPosition":1.5,"title":null},"text":{"field":"t"}}},
    {"transform":[{"filter":"datum.k=='p'"}],"mark":{"type":"point","filled":true,"size":42,"color":"black","opacity":1},"encoding":{"xOffset":{"field":"s","type":"quantitative","scale":{"domain":[-1.5,1.5]}},"shape":{"field":"g","type":"nominal","scale":{"domain":[1,2,3],"range":["circle","square","triangle-up"]},"legend":null}}},
    {"transform":[{"filter":"datum.k=='m'"}],"mark":{"type":"rule","clip":true,"strokeWidth":2,"color":"black"},"encoding":{"y":{"field":"lo","type":"quantitative","title":null},"y2":{"field":"hi"}}},
    {"transform":[{"filter":"datum.k=='m'"}],"mark":{"type":"tick","orient":"horizontal","size":34,"thickness":2,"color":"black"}},
    {"transform":[{"filter":"datum.k=='m'"},{"fold":["lo","hi"],"as":["kk","cap"]}],"mark":{"type":"tick","orient":"horizontal","size":20,"thickness":2,"color":"black","clip":true},"encoding":{"y":{"field":"cap","type":"quantitative","title":null}}}
   ]}
  ]},
 {"title":{"text":"CD8+","orient":"left","fontSize":17,"fontWeight":"bold","frame":"group","anchor":"middle","offset":14,"dx":-48},
  "bounds":"flush","spacing":15,
  "hconcat":[
  {"width":163,"height":107,"title":"IFN-γ+","transform":[{"filter":"datum.p=='a2i'"}],
   "encoding":{"x":{"field":"g","type":"ordinal","scale":{"type":"band","paddingInner":0,"paddingOuter":0},"axis":{"title":null,"labelAngle":-45,"labelAlign":"right","labelBaseline":"top","labelFontSize":9.5,"labelPadding":2,"labelExpr":"datum.value==1?'Pre-C':datum.value==2?'Post-C D7':'C-resistant'"}},
    "y":{"field":"y","type":"quantitative","scale":{"domain":[0,50]},"axis":{"values":[0,10,20,30,40,50],"title":["Fold change","relative to Pre-C"]}}},
   "layer":[
    {"transform":[{"filter":"datum.k=='s'"}],"mark":{"type":"rule","color":"#555","strokeWidth":1,"xOffset":4,"x2Offset":-4},"encoding":{"x":{"field":"g","type":"ordinal","bandPosition":0.5,"title":null},"x2":{"field":"g2"}}},
    {"transform":[{"filter":"datum.k=='s' && datum.pr!='13'"}],"mark":{"type":"text","baseline":"bottom","dy":-1,"fontSize":8.5,"color":"#222"},"encoding":{"x":{"field":"g2","type":"ordinal","bandPosition":0,"title":null},"text":{"field":"t"}}},
    {"transform":[{"filter":"datum.k=='s' && datum.pr=='13'"}],"mark":{"type":"text","baseline":"bottom","dy":-1,"fontSize":8.5,"color":"#222"},"encoding":{"x":{"field":"g","type":"ordinal","bandPosition":1.5,"title":null},"text":{"field":"t"}}},
    {"transform":[{"filter":"datum.k=='p'"}],"mark":{"type":"point","filled":true,"size":42,"color":"black","opacity":1},"encoding":{"xOffset":{"field":"s","type":"quantitative","scale":{"domain":[-1.5,1.5]}},"shape":{"field":"g","type":"nominal","scale":{"domain":[1,2,3],"range":["circle","square","triangle-up"]},"legend":null}}},
    {"transform":[{"filter":"datum.k=='m'"}],"mark":{"type":"rule","clip":true,"strokeWidth":2,"color":"black"},"encoding":{"y":{"field":"lo","type":"quantitative","title":null},"y2":{"field":"hi"}}},
    {"transform":[{"filter":"datum.k=='m'"}],"mark":{"type":"tick","orient":"horizontal","size":34,"thickness":2,"color":"black"}},
    {"transform":[{"filter":"datum.k=='m'"},{"fold":["lo","hi"],"as":["kk","cap"]}],"mark":{"type":"tick","orient":"horizontal","size":20,"thickness":2,"color":"black","clip":true},"encoding":{"y":{"field":"cap","type":"quantitative","title":null}}}
   ]},
  {"width":163,"height":107,"title":"TNF-α+","transform":[{"filter":"datum.p=='a2t'"}],
   "encoding":{"x":{"field":"g","type":"ordinal","scale":{"type":"band","paddingInner":0,"paddingOuter":0},"axis":{"title":null,"labelAngle":-45,"labelAlign":"right","labelBaseline":"top","labelFontSize":9.5,"labelPadding":2,"labelExpr":"datum.value==1?'Pre-C':datum.value==2?'Post-C D7':'C-resistant'"}},
    "y":{"field":"y","type":"quantitative","scale":{"domain":[0,30]},"axis":{"values":[0,10,20,30],"title":null}}},
   "layer":[
    {"transform":[{"filter":"datum.k=='s'"}],"mark":{"type":"rule","color":"#555","strokeWidth":1,"xOffset":4,"x2Offset":-4},"encoding":{"x":{"field":"g","type":"ordinal","bandPosition":0.5,"title":null},"x2":{"field":"g2"}}},
    {"transform":[{"filter":"datum.k=='s' && datum.pr!='13'"}],"mark":{"type":"text","baseline":"bottom","dy":-1,"fontSize":8.5,"color":"#222"},"encoding":{"x":{"field":"g2","type":"ordinal","bandPosition":0,"title":null},"text":{"field":"t"}}},
    {"transform":[{"filter":"datum.k=='s' && datum.pr=='13'"}],"mark":{"type":"text","baseline":"bottom","dy":-1,"fontSize":8.5,"color":"#222"},"encoding":{"x":{"field":"g","type":"ordinal","bandPosition":1.5,"title":null},"text":{"field":"t"}}},
    {"transform":[{"filter":"datum.k=='p'"}],"mark":{"type":"point","filled":true,"size":42,"color":"black","opacity":1},"encoding":{"xOffset":{"field":"s","type":"quantitative","scale":{"domain":[-1.5,1.5]}},"shape":{"field":"g","type":"nominal","scale":{"domain":[1,2,3],"range":["circle","square","triangle-up"]},"legend":null}}},
    {"transform":[{"filter":"datum.k=='m'"}],"mark":{"type":"rule","clip":true,"strokeWidth":2,"color":"black"},"encoding":{"y":{"field":"lo","type":"quantitative","title":null},"y2":{"field":"hi"}}},
    {"transform":[{"filter":"datum.k=='m'"}],"mark":{"type":"tick","orient":"horizontal","size":34,"thickness":2,"color":"black"}},
    {"transform":[{"filter":"datum.k=='m'"},{"fold":["lo","hi"],"as":["kk","cap"]}],"mark":{"type":"tick","orient":"horizontal","size":20,"thickness":2,"color":"black","clip":true},"encoding":{"y":{"field":"cap","type":"quantitative","title":null}}}
   ]},
  {"width":163,"height":107,"title":"IL-2+","transform":[{"filter":"datum.p=='a2l'"}],
   "encoding":{"x":{"field":"g","type":"ordinal","scale":{"type":"band","paddingInner":0,"paddingOuter":0},"axis":{"title":null,"labelAngle":-45,"labelAlign":"right","labelBaseline":"top","labelFontSize":9.5,"labelPadding":2,"labelExpr":"datum.value==1?'Pre-C':datum.value==2?'Post-C D7':'C-resistant'"}},
    "y":{"field":"y","type":"quantitative","scale":{"domain":[0,100]},"axis":{"values":[0,20,40,60,80,100],"title":null}}},
   "layer":[
    {"transform":[{"filter":"datum.k=='s'"}],"mark":{"type":"rule","color":"#555","strokeWidth":1,"xOffset":4,"x2Offset":-4},"encoding":{"x":{"field":"g","type":"ordinal","bandPosition":0.5,"title":null},"x2":{"field":"g2"}}},
    {"transform":[{"filter":"datum.k=='s' && datum.pr!='13'"}],"mark":{"type":"text","baseline":"bottom","dy":-1,"fontSize":8.5,"color":"#222"},"encoding":{"x":{"field":"g2","type":"ordinal","bandPosition":0,"title":null},"text":{"field":"t"}}},
    {"transform":[{"filter":"datum.k=='s' && datum.pr=='13'"}],"mark":{"type":"text","baseline":"bottom","dy":-1,"fontSize":8.5,"color":"#222"},"encoding":{"x":{"field":"g","type":"ordinal","bandPosition":1.5,"title":null},"text":{"field":"t"}}},
    {"transform":[{"filter":"datum.k=='p'"}],"mark":{"type":"point","filled":true,"size":42,"color":"black","opacity":1},"encoding":{"xOffset":{"field":"s","type":"quantitative","scale":{"domain":[-1.5,1.5]}},"shape":{"field":"g","type":"nominal","scale":{"domain":[1,2,3],"range":["circle","square","triangle-up"]},"legend":null}}},
    {"transform":[{"filter":"datum.k=='m'"}],"mark":{"type":"rule","clip":true,"strokeWidth":2,"color":"black"},"encoding":{"y":{"field":"lo","type":"quantitative","title":null},"y2":{"field":"hi"}}},
    {"transform":[{"filter":"datum.k=='m'"}],"mark":{"type":"tick","orient":"horizontal","size":34,"thickness":2,"color":"black"}},
    {"transform":[{"filter":"datum.k=='m'"},{"fold":["lo","hi"],"as":["kk","cap"]}],"mark":{"type":"tick","orient":"horizontal","size":20,"thickness":2,"color":"black","clip":true},"encoding":{"y":{"field":"cap","type":"quantitative","title":null}}}
   ]},
  {"width":163,"height":107,"title":"GrzB+","transform":[{"filter":"datum.p=='a2g'"}],
   "encoding":{"x":{"field":"g","type":"ordinal","scale":{"type":"band","paddingInner":0,"paddingOuter":0},"axis":{"title":null,"labelAngle":-45,"labelAlign":"right","labelBaseline":"top","labelFontSize":9.5,"labelPadding":2,"labelExpr":"datum.value==1?'Pre-C':datum.value==2?'Post-C D7':'C-resistant'"}},
    "y":{"field":"y","type":"quantitative","scale":{"domain":[0,25]},"axis":{"values":[0,5,10,15,20,25],"title":null}}},
   "layer":[
    {"transform":[{"filter":"datum.k=='s'"}],"mark":{"type":"rule","color":"#555","strokeWidth":1,"xOffset":4,"x2Offset":-4},"encoding":{"x":{"field":"g","type":"ordinal","bandPosition":0.5,"title":null},"x2":{"field":"g2"}}},
    {"transform":[{"filter":"datum.k=='s' && datum.pr!='13'"}],"mark":{"type":"text","baseline":"bottom","dy":-1,"fontSize":8.5,"color":"#222"},"encoding":{"x":{"field":"g2","type":"ordinal","bandPosition":0,"title":null},"text":{"field":"t"}}},
    {"transform":[{"filter":"datum.k=='s' && datum.pr=='13'"}],"mark":{"type":"text","baseline":"bottom","dy":-1,"fontSize":8.5,"color":"#222"},"encoding":{"x":{"field":"g","type":"ordinal","bandPosition":1.5,"title":null},"text":{"field":"t"}}},
    {"transform":[{"filter":"datum.k=='p'"}],"mark":{"type":"point","filled":true,"size":42,"color":"black","opacity":1},"encoding":{"xOffset":{"field":"s","type":"quantitative","scale":{"domain":[-1.5,1.5]}},"shape":{"field":"g","type":"nominal","scale":{"domain":[1,2,3],"range":["circle","square","triangle-up"]},"legend":null}}},
    {"transform":[{"filter":"datum.k=='m'"}],"mark":{"type":"rule","clip":true,"strokeWidth":2,"color":"black"},"encoding":{"y":{"field":"lo","type":"quantitative","title":null},"y2":{"field":"hi"}}},
    {"transform":[{"filter":"datum.k=='m'"}],"mark":{"type":"tick","orient":"horizontal","size":34,"thickness":2,"color":"black"}},
    {"transform":[{"filter":"datum.k=='m'"},{"fold":["lo","hi"],"as":["kk","cap"]}],"mark":{"type":"tick","orient":"horizontal","size":20,"thickness":2,"color":"black","clip":true},"encoding":{"y":{"field":"cap","type":"quantitative","title":null}}}
   ]}
  ]}
 ]},
{"title":{"text":"B","anchor":"start","fontSize":17,"fontWeight":"bold","offset":10},
 "spacing":36,
 "vconcat":[
 {"title":{"text":"CD4+","orient":"left","fontSize":17,"fontWeight":"bold","frame":"group","anchor":"middle","offset":24,"dx":-52},
  "bounds":"flush","spacing":15,
  "hconcat":[
  {"width":163,"height":107,"title":"PD-1+","transform":[{"filter":"datum.p=='b1p'"}],
   "encoding":{"x":{"field":"g","type":"ordinal","scale":{"type":"band","paddingInner":0,"paddingOuter":0},"axis":{"title":null,"labelAngle":-45,"labelAlign":"right","labelBaseline":"top","labelFontSize":8,"labelPadding":9,"labelExpr":"datum.value==1?'PreC':datum.value==2?'Post-CD7':'Cast-resistant'"}},
    "y":{"field":"y","type":"quantitative","scale":{"domain":[0,80]},"axis":{"values":[0,20,40,60,80],"tickSize":5,"labelPadding":2,"title":"% CD4+ cells","titleFontWeight":"normal","titleFontSize":11,"titlePadding":17}}},
   "layer":[
    {"transform":[{"filter":"datum.k=='s'"}],"mark":{"type":"rule","color":"#555","strokeWidth":1,"xOffset":4,"x2Offset":-4},"encoding":{"x":{"field":"g","type":"ordinal","bandPosition":0.5,"title":null},"x2":{"field":"g2"}}},
    {"transform":[{"filter":"datum.k=='s' && datum.pr!='13'"}],"mark":{"type":"text","baseline":"bottom","dy":-1,"fontSize":8.5,"color":"#222"},"encoding":{"x":{"field":"g2","type":"ordinal","bandPosition":0,"title":null},"text":{"field":"t"}}},
    {"transform":[{"filter":"datum.k=='s' && datum.pr=='13'"}],"mark":{"type":"text","baseline":"bottom","dy":-1,"fontSize":8.5,"color":"#222"},"encoding":{"x":{"field":"g","type":"ordinal","bandPosition":1.5,"title":null},"text":{"field":"t"}}},
    {"transform":[{"filter":"datum.k=='p'"}],"mark":{"type":"point","filled":true,"size":42,"color":"black","opacity":1},"encoding":{"xOffset":{"field":"s","type":"quantitative","scale":{"domain":[-1.8,1.8]}},"shape":{"field":"g","type":"nominal","scale":{"domain":[1,2,3],"range":["circle","square","triangle-up"]},"legend":null}}},
    {"transform":[{"filter":"datum.k=='m'"}],"mark":{"type":"rule","clip":true,"strokeWidth":2,"color":"black"},"encoding":{"y":{"field":"lo","type":"quantitative","title":null},"y2":{"field":"hi"}}},
    {"transform":[{"filter":"datum.k=='m'"}],"mark":{"type":"tick","orient":"horizontal","size":34,"thickness":2,"color":"black"}},
    {"transform":[{"filter":"datum.k=='m'"},{"fold":["lo","hi"],"as":["kk","cap"]}],"mark":{"type":"tick","orient":"horizontal","size":20,"thickness":2,"color":"black","clip":true},"encoding":{"y":{"field":"cap","type":"quantitative","title":null}}}
   ]},
  {"width":163,"height":107,"title":"CTLA-4+","transform":[{"filter":"datum.p=='b1c'"}],
   "encoding":{"x":{"field":"g","type":"ordinal","scale":{"type":"band","paddingInner":0,"paddingOuter":0},"axis":{"title":null,"labelAngle":-45,"labelAlign":"right","labelBaseline":"top","labelFontSize":8,"labelPadding":9,"labelExpr":"datum.value==1?'PreC':datum.value==2?'Post-CD7':'Cast-resistant'"}},
    "y":{"field":"y","type":"quantitative","scale":{"domain":[0,100]},"axis":{"values":[0,20,40,60,80,100],"tickSize":5,"labelPadding":2,"title":null}}},
   "layer":[
    {"transform":[{"filter":"datum.k=='s'"}],"mark":{"type":"rule","color":"#555","strokeWidth":1,"xOffset":4,"x2Offset":-4},"encoding":{"x":{"field":"g","type":"ordinal","bandPosition":0.5,"title":null},"x2":{"field":"g2"}}},
    {"transform":[{"filter":"datum.k=='s' && datum.pr!='13'"}],"mark":{"type":"text","baseline":"bottom","dy":-1,"fontSize":8.5,"color":"#222"},"encoding":{"x":{"field":"g2","type":"ordinal","bandPosition":0,"title":null},"text":{"field":"t"}}},
    {"transform":[{"filter":"datum.k=='s' && datum.pr=='13'"}],"mark":{"type":"text","baseline":"bottom","dy":-1,"fontSize":8.5,"color":"#222"},"encoding":{"x":{"field":"g","type":"ordinal","bandPosition":1.5,"title":null},"text":{"field":"t"}}},
    {"transform":[{"filter":"datum.k=='p'"}],"mark":{"type":"point","filled":true,"size":42,"color":"black","opacity":1},"encoding":{"xOffset":{"field":"s","type":"quantitative","scale":{"domain":[-1.8,1.8]}},"shape":{"field":"g","type":"nominal","scale":{"domain":[1,2,3],"range":["circle","square","triangle-up"]},"legend":null}}},
    {"transform":[{"filter":"datum.k=='m'"}],"mark":{"type":"rule","clip":true,"strokeWidth":2,"color":"black"},"encoding":{"y":{"field":"lo","type":"quantitative","title":null},"y2":{"field":"hi"}}},
    {"transform":[{"filter":"datum.k=='m'"}],"mark":{"type":"tick","orient":"horizontal","size":34,"thickness":2,"color":"black"}},
    {"transform":[{"filter":"datum.k=='m'"},{"fold":["lo","hi"],"as":["kk","cap"]}],"mark":{"type":"tick","orient":"horizontal","size":20,"thickness":2,"color":"black","clip":true},"encoding":{"y":{"field":"cap","type":"quantitative","title":null}}}
   ]},
  {"width":163,"height":107,"title":"LAG-3+","transform":[{"filter":"datum.p=='b1l'"}],
   "encoding":{"x":{"field":"g","type":"ordinal","scale":{"type":"band","paddingInner":0,"paddingOuter":0},"axis":{"title":null,"labelAngle":-45,"labelAlign":"right","labelBaseline":"top","labelFontSize":8,"labelPadding":9,"labelExpr":"datum.value==1?'PreC':datum.value==2?'Post-CD7':'Cast-resistant'"}},
    "y":{"field":"y","type":"quantitative","scale":{"domain":[0,20]},"axis":{"values":[0,5,10,15,20],"tickSize":5,"labelPadding":2,"title":null}}},
   "layer":[
    {"transform":[{"filter":"datum.k=='s'"}],"mark":{"type":"rule","color":"#555","strokeWidth":1,"xOffset":4,"x2Offset":-4},"encoding":{"x":{"field":"g","type":"ordinal","bandPosition":0.5,"title":null},"x2":{"field":"g2"}}},
    {"transform":[{"filter":"datum.k=='s' && datum.pr!='13'"}],"mark":{"type":"text","baseline":"bottom","dy":-1,"fontSize":8.5,"color":"#222"},"encoding":{"x":{"field":"g2","type":"ordinal","bandPosition":0,"title":null},"text":{"field":"t"}}},
    {"transform":[{"filter":"datum.k=='s' && datum.pr=='13'"}],"mark":{"type":"text","baseline":"bottom","dy":-1,"fontSize":8.5,"color":"#222"},"encoding":{"x":{"field":"g","type":"ordinal","bandPosition":1.5,"title":null},"text":{"field":"t"}}},
    {"transform":[{"filter":"datum.k=='p'"}],"mark":{"type":"point","filled":true,"size":42,"color":"black","opacity":1},"encoding":{"xOffset":{"field":"s","type":"quantitative","scale":{"domain":[-1.8,1.8]}},"shape":{"field":"g","type":"nominal","scale":{"domain":[1,2,3],"range":["circle","square","triangle-up"]},"legend":null}}},
    {"transform":[{"filter":"datum.k=='m'"}],"mark":{"type":"rule","clip":true,"strokeWidth":2,"color":"black"},"encoding":{"y":{"field":"lo","type":"quantitative","title":null},"y2":{"field":"hi"}}},
    {"transform":[{"filter":"datum.k=='m'"}],"mark":{"type":"tick","orient":"horizontal","size":34,"thickness":2,"color":"black"}},
    {"transform":[{"filter":"datum.k=='m'"},{"fold":["lo","hi"],"as":["kk","cap"]}],"mark":{"type":"tick","orient":"horizontal","size":20,"thickness":2,"color":"black","clip":true},"encoding":{"y":{"field":"cap","type":"quantitative","title":null}}}
   ]},
  {"width":163,"height":107,"title":"TIM-3+","transform":[{"filter":"datum.p=='b1t'"}],
   "encoding":{"x":{"field":"g","type":"ordinal","scale":{"type":"band","paddingInner":0,"paddingOuter":0},"axis":{"title":null,"labelAngle":-45,"labelAlign":"right","labelBaseline":"top","labelFontSize":8,"labelPadding":9,"labelExpr":"datum.value==1?'PreC':datum.value==2?'Post-CD7':'Cast-resistant'"}},
    "y":{"field":"y","type":"quantitative","scale":{"domain":[0,40]},"axis":{"values":[0,10,20,30,40],"tickSize":5,"labelPadding":2,"title":null}}},
   "layer":[
    {"transform":[{"filter":"datum.k=='s'"}],"mark":{"type":"rule","color":"#555","strokeWidth":1,"xOffset":4,"x2Offset":-4},"encoding":{"x":{"field":"g","type":"ordinal","bandPosition":0.5,"title":null},"x2":{"field":"g2"}}},
    {"transform":[{"filter":"datum.k=='s' && datum.pr!='13'"}],"mark":{"type":"text","baseline":"bottom","dy":-1,"fontSize":8.5,"color":"#222"},"encoding":{"x":{"field":"g2","type":"ordinal","bandPosition":0,"title":null},"text":{"field":"t"}}},
    {"transform":[{"filter":"datum.k=='s' && datum.pr=='13'"}],"mark":{"type":"text","baseline":"bottom","dy":-1,"fontSize":8.5,"color":"#222"},"encoding":{"x":{"field":"g","type":"ordinal","bandPosition":1.5,"title":null},"text":{"field":"t"}}},
    {"transform":[{"filter":"datum.k=='p'"}],"mark":{"type":"point","filled":true,"size":42,"color":"black","opacity":1},"encoding":{"xOffset":{"field":"s","type":"quantitative","scale":{"domain":[-1.8,1.8]}},"shape":{"field":"g","type":"nominal","scale":{"domain":[1,2,3],"range":["circle","square","triangle-up"]},"legend":null}}},
    {"transform":[{"filter":"datum.k=='m'"}],"mark":{"type":"rule","clip":true,"strokeWidth":2,"color":"black"},"encoding":{"y":{"field":"lo","type":"quantitative","title":null},"y2":{"field":"hi"}}},
    {"transform":[{"filter":"datum.k=='m'"}],"mark":{"type":"tick","orient":"horizontal","size":34,"thickness":2,"color":"black"}},
    {"transform":[{"filter":"datum.k=='m'"},{"fold":["lo","hi"],"as":["kk","cap"]}],"mark":{"type":"tick","orient":"horizontal","size":20,"thickness":2,"color":"black","clip":true},"encoding":{"y":{"field":"cap","type":"quantitative","title":null}}}
   ]}
  ]},
 {"title":{"text":"CD8+","orient":"left","fontSize":17,"fontWeight":"bold","frame":"group","anchor":"middle","offset":24,"dx":-52},
  "bounds":"flush","spacing":15,
  "hconcat":[
  {"width":163,"height":107,"title":"PD-1+","transform":[{"filter":"datum.p=='b2p'"}],
   "encoding":{"x":{"field":"g","type":"ordinal","scale":{"type":"band","paddingInner":0,"paddingOuter":0},"axis":{"title":null,"labelAngle":-45,"labelAlign":"right","labelBaseline":"top","labelFontSize":8,"labelPadding":9,"labelExpr":"datum.value==1?'PreC':datum.value==2?'Post-CD7':'Cast-resistant'"}},
    "y":{"field":"y","type":"quantitative","scale":{"domain":[0,80]},"axis":{"values":[0,20,40,60,80],"tickSize":5,"labelPadding":2,"title":"% CD8+ cells","titleFontWeight":"normal","titleFontSize":11,"titlePadding":17}}},
   "layer":[
    {"transform":[{"filter":"datum.k=='s'"}],"mark":{"type":"rule","color":"#555","strokeWidth":1,"xOffset":4,"x2Offset":-4},"encoding":{"x":{"field":"g","type":"ordinal","bandPosition":0.5,"title":null},"x2":{"field":"g2"}}},
    {"transform":[{"filter":"datum.k=='s' && datum.pr!='13'"}],"mark":{"type":"text","baseline":"bottom","dy":-1,"fontSize":8.5,"color":"#222"},"encoding":{"x":{"field":"g2","type":"ordinal","bandPosition":0,"title":null},"text":{"field":"t"}}},
    {"transform":[{"filter":"datum.k=='s' && datum.pr=='13'"}],"mark":{"type":"text","baseline":"bottom","dy":-1,"fontSize":8.5,"color":"#222"},"encoding":{"x":{"field":"g","type":"ordinal","bandPosition":1.5,"title":null},"text":{"field":"t"}}},
    {"transform":[{"filter":"datum.k=='p'"}],"mark":{"type":"point","filled":true,"size":42,"color":"black","opacity":1},"encoding":{"xOffset":{"field":"s","type":"quantitative","scale":{"domain":[-1.8,1.8]}},"shape":{"field":"g","type":"nominal","scale":{"domain":[1,2,3],"range":["circle","square","triangle-up"]},"legend":null}}},
    {"transform":[{"filter":"datum.k=='m'"}],"mark":{"type":"rule","clip":true,"strokeWidth":2,"color":"black"},"encoding":{"y":{"field":"lo","type":"quantitative","title":null},"y2":{"field":"hi"}}},
    {"transform":[{"filter":"datum.k=='m'"}],"mark":{"type":"tick","orient":"horizontal","size":34,"thickness":2,"color":"black"}},
    {"transform":[{"filter":"datum.k=='m'"},{"fold":["lo","hi"],"as":["kk","cap"]}],"mark":{"type":"tick","orient":"horizontal","size":20,"thickness":2,"color":"black","clip":true},"encoding":{"y":{"field":"cap","type":"quantitative","title":null}}}
   ]},
  {"width":163,"height":107,"title":"CTLA-4+","transform":[{"filter":"datum.p=='b2c'"}],
   "encoding":{"x":{"field":"g","type":"ordinal","scale":{"type":"band","paddingInner":0,"paddingOuter":0},"axis":{"title":null,"labelAngle":-45,"labelAlign":"right","labelBaseline":"top","labelFontSize":8,"labelPadding":9,"labelExpr":"datum.value==1?'PreC':datum.value==2?'Post-CD7':'Cast-resistant'"}},
    "y":{"field":"y","type":"quantitative","scale":{"domain":[0,80]},"axis":{"values":[0,20,40,60,80],"tickSize":5,"labelPadding":2,"title":null}}},
   "layer":[
    {"transform":[{"filter":"datum.k=='s'"}],"mark":{"type":"rule","color":"#555","strokeWidth":1,"xOffset":4,"x2Offset":-4},"encoding":{"x":{"field":"g","type":"ordinal","bandPosition":0.5,"title":null},"x2":{"field":"g2"}}},
    {"transform":[{"filter":"datum.k=='s' && datum.pr!='13'"}],"mark":{"type":"text","baseline":"bottom","dy":-1,"fontSize":8.5,"color":"#222"},"encoding":{"x":{"field":"g2","type":"ordinal","bandPosition":0,"title":null},"text":{"field":"t"}}},
    {"transform":[{"filter":"datum.k=='s' && datum.pr=='13'"}],"mark":{"type":"text","baseline":"bottom","dy":-1,"fontSize":8.5,"color":"#222"},"encoding":{"x":{"field":"g","type":"ordinal","bandPosition":1.5,"title":null},"text":{"field":"t"}}},
    {"transform":[{"filter":"datum.k=='p'"}],"mark":{"type":"point","filled":true,"size":42,"color":"black","opacity":1},"encoding":{"xOffset":{"field":"s","type":"quantitative","scale":{"domain":[-1.8,1.8]}},"shape":{"field":"g","type":"nominal","scale":{"domain":[1,2,3],"range":["circle","square","triangle-up"]},"legend":null}}},
    {"transform":[{"filter":"datum.k=='m'"}],"mark":{"type":"rule","clip":true,"strokeWidth":2,"color":"black"},"encoding":{"y":{"field":"lo","type":"quantitative","title":null},"y2":{"field":"hi"}}},
    {"transform":[{"filter":"datum.k=='m'"}],"mark":{"type":"tick","orient":"horizontal","size":34,"thickness":2,"color":"black"}},
    {"transform":[{"filter":"datum.k=='m'"},{"fold":["lo","hi"],"as":["kk","cap"]}],"mark":{"type":"tick","orient":"horizontal","size":20,"thickness":2,"color":"black","clip":true},"encoding":{"y":{"field":"cap","type":"quantitative","title":null}}}
   ]},
  {"width":163,"height":107,"title":"LAG-3+","transform":[{"filter":"datum.p=='b2l'"}],
   "encoding":{"x":{"field":"g","type":"ordinal","scale":{"type":"band","paddingInner":0,"paddingOuter":0},"axis":{"title":null,"labelAngle":-45,"labelAlign":"right","labelBaseline":"top","labelFontSize":8,"labelPadding":9,"labelExpr":"datum.value==1?'PreC':datum.value==2?'Post-CD7':'Cast-resistant'"}},
    "y":{"field":"y","type":"quantitative","scale":{"domain":[0,40]},"axis":{"values":[0,10,20,30,40],"tickSize":5,"labelPadding":2,"title":null}}},
   "layer":[
    {"transform":[{"filter":"datum.k=='s'"}],"mark":{"type":"rule","color":"#555","strokeWidth":1,"xOffset":4,"x2Offset":-4},"encoding":{"x":{"field":"g","type":"ordinal","bandPosition":0.5,"title":null},"x2":{"field":"g2"}}},
    {"transform":[{"filter":"datum.k=='s' && datum.pr!='13'"}],"mark":{"type":"text","baseline":"bottom","dy":-1,"fontSize":8.5,"color":"#222"},"encoding":{"x":{"field":"g2","type":"ordinal","bandPosition":0,"title":null},"text":{"field":"t"}}},
    {"transform":[{"filter":"datum.k=='s' && datum.pr=='13'"}],"mark":{"type":"text","baseline":"bottom","dy":-1,"fontSize":8.5,"color":"#222"},"encoding":{"x":{"field":"g","type":"ordinal","bandPosition":1.5,"title":null},"text":{"field":"t"}}},
    {"transform":[{"filter":"datum.k=='p'"}],"mark":{"type":"point","filled":true,"size":42,"color":"black","opacity":1},"encoding":{"xOffset":{"field":"s","type":"quantitative","scale":{"domain":[-1.8,1.8]}},"shape":{"field":"g","type":"nominal","scale":{"domain":[1,2,3],"range":["circle","square","triangle-up"]},"legend":null}}},
    {"transform":[{"filter":"datum.k=='m'"}],"mark":{"type":"rule","clip":true,"strokeWidth":2,"color":"black"},"encoding":{"y":{"field":"lo","type":"quantitative","title":null},"y2":{"field":"hi"}}},
    {"transform":[{"filter":"datum.k=='m'"}],"mark":{"type":"tick","orient":"horizontal","size":34,"thickness":2,"color":"black"}},
    {"transform":[{"filter":"datum.k=='m'"},{"fold":["lo","hi"],"as":["kk","cap"]}],"mark":{"type":"tick","orient":"horizontal","size":20,"thickness":2,"color":"black","clip":true},"encoding":{"y":{"field":"cap","type":"quantitative","title":null}}}
   ]},
  {"width":163,"height":107,"title":"TIM-3+","transform":[{"filter":"datum.p=='b2t'"}],
   "encoding":{"x":{"field":"g","type":"ordinal","scale":{"type":"band","paddingInner":0,"paddingOuter":0},"axis":{"title":null,"labelAngle":-45,"labelAlign":"right","labelBaseline":"top","labelFontSize":8,"labelPadding":9,"labelExpr":"datum.value==1?'PreC':datum.value==2?'Post-CD7':'Cast-resistant'"}},
    "y":{"field":"y","type":"quantitative","scale":{"domain":[0,60]},"axis":{"values":[0,20,40,60],"tickSize":5,"labelPadding":2,"title":null}}},
   "layer":[
    {"transform":[{"filter":"datum.k=='s'"}],"mark":{"type":"rule","color":"#555","strokeWidth":1,"xOffset":4,"x2Offset":-4},"encoding":{"x":{"field":"g","type":"ordinal","bandPosition":0.5,"title":null},"x2":{"field":"g2"}}},
    {"transform":[{"filter":"datum.k=='s' && datum.pr!='13'"}],"mark":{"type":"text","baseline":"bottom","dy":-1,"fontSize":8.5,"color":"#222"},"encoding":{"x":{"field":"g2","type":"ordinal","bandPosition":0,"title":null},"text":{"field":"t"}}},
    {"transform":[{"filter":"datum.k=='s' && datum.pr=='13'"}],"mark":{"type":"text","baseline":"bottom","dy":-1,"fontSize":8.5,"color":"#222"},"encoding":{"x":{"field":"g","type":"ordinal","bandPosition":1.5,"title":null},"text":{"field":"t"}}},
    {"transform":[{"filter":"datum.k=='p'"}],"mark":{"type":"point","filled":true,"size":42,"color":"black","opacity":1},"encoding":{"xOffset":{"field":"s","type":"quantitative","scale":{"domain":[-1.8,1.8]}},"shape":{"field":"g","type":"nominal","scale":{"domain":[1,2,3],"range":["circle","square","triangle-up"]},"legend":null}}},
    {"transform":[{"filter":"datum.k=='m'"}],"mark":{"type":"rule","clip":true,"strokeWidth":2,"color":"black"},"encoding":{"y":{"field":"lo","type":"quantitative","title":null},"y2":{"field":"hi"}}},
    {"transform":[{"filter":"datum.k=='m'"}],"mark":{"type":"tick","orient":"horizontal","size":34,"thickness":2,"color":"black"}},
    {"transform":[{"filter":"datum.k=='m'"},{"fold":["lo","hi"],"as":["kk","cap"]}],"mark":{"type":"tick","orient":"horizontal","size":20,"thickness":2,"color":"black","clip":true},"encoding":{"y":{"field":"cap","type":"quantitative","title":null}}}
   ]}
  ]}
 ]}
]
}
